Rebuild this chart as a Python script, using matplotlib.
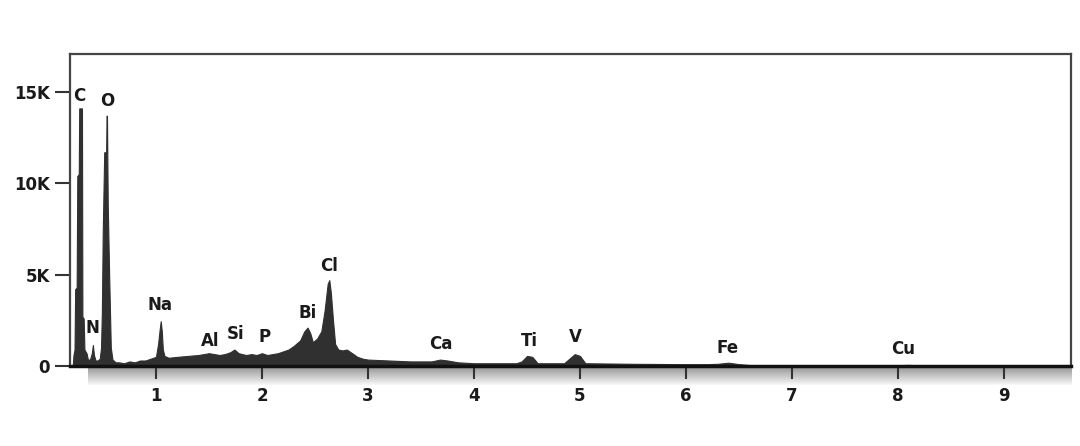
import numpy as np
import matplotlib
matplotlib.use("Agg")
import matplotlib.pyplot as plt
from matplotlib.ticker import FixedLocator, FuncFormatter

# EDS spectrum: energy (keV) and counts
energy = [0.215, 0.222, 0.232, 0.238, 0.252, 0.258, 0.272, 0.276, 0.302, 0.306,
          0.318, 0.325, 0.345, 0.36, 0.38, 0.395, 0.405, 0.415, 0.43, 0.45,
          0.47, 0.482, 0.49, 0.498, 0.512, 0.530, 0.534, 0.538, 0.545, 0.558,
          0.574, 0.59, 0.62, 0.65, 0.70, 0.75, 0.80, 0.85, 0.90, 0.95,
          1.00, 1.02, 1.035, 1.045, 1.055, 1.065, 1.08, 1.12, 1.2, 1.3,
          1.4, 1.45, 1.5, 1.55, 1.6, 1.65, 1.7, 1.74, 1.78, 1.85,
          1.9, 1.95, 2.0, 2.05, 2.1, 2.15, 2.2, 2.25, 2.30, 2.36,
          2.40, 2.43, 2.455, 2.48, 2.52, 2.56, 2.59, 2.62, 2.635, 2.65,
          2.67, 2.69, 2.72, 2.76, 2.8, 2.85, 2.9, 2.95, 3.0, 3.2,
          3.4, 3.6, 3.68, 3.75, 3.85, 4.0, 4.2, 4.4, 4.45, 4.5,
          4.55, 4.6, 4.85, 4.9, 4.95, 5.0, 5.05, 5.5, 6.0, 6.2,
          6.3, 6.4, 6.5, 6.6, 7.0, 8.0, 8.1, 8.2, 9.0, 9.6]
counts = [0, 600, 900, 4200, 4300, 10400, 10500, 14100, 14100, 2700,
          2600, 900, 700, 300, 400, 700, 1150, 600, 300, 300,
          400, 1000, 3000, 7300, 11700, 11700, 13700, 13700, 8900, 5100,
          1000, 350, 200, 200, 150, 250, 200, 300, 300, 400,
          500, 1200, 2000, 2450, 1900, 900, 550, 450, 500, 550,
          600, 650, 700, 650, 600, 650, 750, 900, 700, 600,
          650, 600, 700, 600, 650, 700, 800, 900, 1100, 1400,
          1900, 2100, 1800, 1300, 1500, 1900, 3000, 4500, 4700, 4000,
          2500, 1200, 900, 850, 900, 700, 500, 400, 350, 300,
          250, 250, 350, 300, 200, 150, 150, 150, 250, 550,
          500, 150, 150, 400, 650, 550, 150, 120, 100, 100,
          120, 180, 100, 50, 40, 40, 60, 30, 20, 20]

# element labels and where they sit (keV, counts)
elements = ["C", "O", "N", "Na", "Al", "Si", "P", "Bi", "Cl", "Ca", "Ti", "V", "Fe", "Cu"]
label_e = [0.273, 0.537, 0.405, 1.04, 1.51, 1.755, 2.02, 2.435, 2.633, 3.69, 4.52, 4.96, 6.39, 8.05]
label_c = [14800, 14500, 2080, 3340, 1370, 1750, 1590, 2880, 5480, 1200, 1370, 1590, 990, 930]

x_ticks = [1, 2, 3, 4, 5, 6, 7, 8, 9]
y_ticks = [0, 5000, 10000, 15000]


def k_fmt(v, pos):
    return "0" if v == 0 else "%dK" % (v / 1000)


fig = plt.figure(figsize=(10.8, 4.46), dpi=100)
ax = fig.add_axes([0.0648, 0.1794, 0.9269, 0.6996])

# grey shaded band under the energy axis
band = fig.add_axes([88 / 1080, (446 - 385) / 446, (1072 - 88) / 1080, 19 / 446], zorder=0)
grad = np.linspace(0.55, 0.97, 50).reshape(-1, 1)
band.imshow(grad, aspect="auto", cmap="gray", vmin=0, vmax=1, extent=[0, 1, 0, 1])
band.axis("off")
ax.set_zorder(1)

ax.fill_between(energy, counts, 0, color="#303030", linewidth=0.8, edgecolor="#303030")

for name, e, c in zip(elements, label_e, label_c):
    ax.text(e, c, name, ha="center", va="center", fontsize=12, fontweight="bold",
            color="#1a1a1a")

ax.set_xlim(0.189, 9.632)
ax.set_ylim(0, 17080)
ax.xaxis.set_major_locator(FixedLocator(x_ticks))
ax.yaxis.set_major_locator(FixedLocator(y_ticks))
ax.yaxis.set_major_formatter(FuncFormatter(k_fmt))

for s in ["top", "left", "right"]:
    ax.spines[s].set_color("#444444")
    ax.spines[s].set_linewidth(1.6)
ax.spines["bottom"].set_color("#111111")
ax.spines["bottom"].set_linewidth(2.5)

ax.tick_params(axis="y", direction="out", length=11, width=1.5, color="#333333",
               pad=3.5, labelsize=12)
ax.tick_params(axis="x", direction="out", length=9, width=1.5, color="#333333",
               pad=6, labelsize=12)
for lbl in ax.get_xticklabels() + ax.get_yticklabels():
    lbl.set_fontweight("bold")
    lbl.set_color("#1a1a1a")

plt.savefig("out.png", dpi=100)
